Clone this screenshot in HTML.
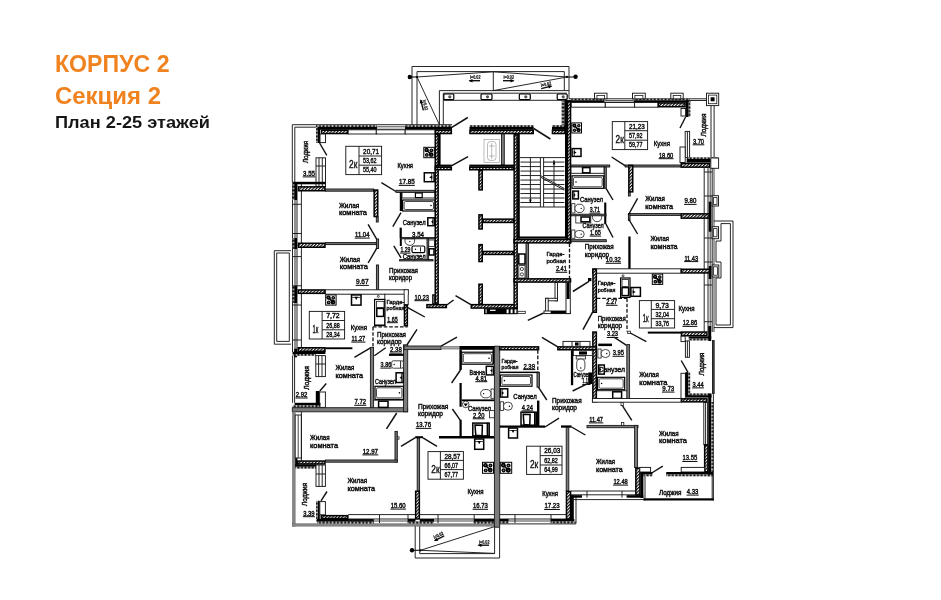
<!DOCTYPE html>
<html lang="ru"><head><meta charset="utf-8"><title>Корпус 2, Секция 2 — План 2-25 этажей</title>
<style>
html,body{margin:0;padding:0;background:#fff}
body{width:941px;height:600px;overflow:hidden;position:relative;font-family:"Liberation Sans",sans-serif}
svg{position:absolute;left:0;top:0;display:block;will-change:transform}
.ttl{font-family:"Liberation Sans",sans-serif;font-weight:700}
.h{fill:url(#ht);stroke:#000;stroke-width:1.5}
.b{fill:#000}
.g{fill:#7c7c7c;stroke:#1a1a1a;stroke-width:.9}
.g3{fill:#858585;stroke:#666;stroke-width:.4}
.g2{fill:#aaa;stroke:#555;stroke-width:.6}
.t{fill:#777;stroke:#111;stroke-width:.9}
.w{fill:#fff;stroke:#1a1a1a;stroke-width:.95}
.d{fill:url(#dt)}
.dv{fill:url(#dv)}
.l{stroke:#1a1a1a;stroke-width:.95;fill:none}
.l2{stroke:#222;stroke-width:.85;fill:none}
.lk{stroke:#111;stroke-width:1.1;fill:none}
.dr{stroke:#111;stroke-width:1.5;fill:none;stroke-linecap:butt}
.dk{stroke:#111;stroke-width:1.4;fill:none}
.da{stroke:#111;stroke-width:1.3;fill:none;stroke-dasharray:3.6 1.8}
.ul{stroke:#111;stroke-width:1}
.tx{font:400 7.1px "Liberation Sans",sans-serif;fill:#111;stroke:#111;stroke-width:.45}
.ts{font:400 5.8px "Liberation Sans",sans-serif;fill:#111;stroke:#111;stroke-width:.4}
.nm{font:400 7.3px "Liberation Sans",sans-serif;fill:#111;stroke:#111;stroke-width:.45}
.bx{font:400 6.9px "Liberation Sans",sans-serif;fill:#111;stroke:#111;stroke-width:.4}
.kk{font:400 10.6px "Liberation Sans",sans-serif;fill:#111;stroke:#111;stroke-width:.4}
.ww{fill:#fff;stroke:none}
.sl{font:700 4.8px "Liberation Sans",sans-serif;fill:#111;stroke:#111;stroke-width:.2}
.st{fill:#fff;stroke:#000;stroke-width:1}
.sc{fill:#bbb;stroke:#000;stroke-width:.6}
.fx{fill:#fff;stroke:#000;stroke-width:1.2}
.fi{fill:#fff;stroke:#1a1a1a;stroke-width:.8}
.fk{fill:#fff;stroke:#000;stroke-width:1.5}
</style></head><body>
<svg width="941" height="600" viewBox="0 0 941 600">
<defs>
<pattern id="ht" width="2.3" height="2.3" patternUnits="userSpaceOnUse" patternTransform="rotate(-45)"><rect width="2.3" height="2.3" fill="#fff"/><rect width="2.3" height="1.2" fill="#0a0a0a"/></pattern>
<pattern id="dt" width="3.6" height="3.6" patternUnits="userSpaceOnUse"><rect width="3.6" height="3.6" fill="#111"/><rect x=".6" y="0" width="1.5" height="3.6" fill="#c8c8c8"/></pattern>
<pattern id="dv" width="3.6" height="3.6" patternUnits="userSpaceOnUse"><rect width="3.6" height="3.6" fill="#111"/><rect x="0" y=".6" width="3.6" height="1.5" fill="#c8c8c8"/></pattern>
</defs>
<rect width="941" height="600" fill="#fff"/>
<text class="ttl" x="55" y="71.6" font-size="23.4" fill="#f0831f" textLength="114.5" lengthAdjust="spacingAndGlyphs">КОРПУС 2</text>
<text class="ttl" x="55" y="103.8" font-size="23.4" fill="#f0831f" textLength="106" lengthAdjust="spacingAndGlyphs">Секция 2</text>
<text class="ttl" x="55" y="127.6" font-size="17.3" fill="#161616" textLength="155" lengthAdjust="spacingAndGlyphs">План 2-25 этажей</text>
<g id="plan">
<g id="top-balcony">
<line class="l" x1="412" y1="66.5" x2="569" y2="66.5"/>
<line class="l" x1="417" y1="71.6" x2="564.3" y2="71.6"/>
<line class="l" x1="412" y1="66.5" x2="412" y2="124.7"/>
<line class="l" x1="417" y1="71.6" x2="417" y2="124.7"/>
<line class="l" x1="569" y1="66.5" x2="569" y2="98.8"/>
<line class="l" x1="564.3" y1="71.6" x2="564.3" y2="90.6"/>
<line class="l" x1="439.4" y1="90.6" x2="569" y2="90.6"/>
<line class="l" x1="439.4" y1="90.6" x2="439.4" y2="124.7"/>
<line class="l" x1="443.3" y1="93.2" x2="443.3" y2="124.7"/>
<line class="l" x1="443.3" y1="93.2" x2="567" y2="93.2"/>
<line class="l" x1="443.3" y1="100.3" x2="562" y2="100.3"/>
<line class="l" x1="493.3" y1="71.6" x2="493.3" y2="90.6"/>
<line class="l" x1="417" y1="77" x2="493.3" y2="71.8"/>
<line class="l" x1="417" y1="77" x2="439.4" y2="124.7"/>
<line class="l" x1="567" y1="77" x2="493.3" y2="71.8"/>
<line class="l" x1="567" y1="77" x2="493.3" y2="90.6"/>
<line class="lk" x1="409.8" y1="77" x2="417" y2="77"/>
<line class="lk" x1="567" y1="77" x2="575.9" y2="77"/>
<circle cx="409.8" cy="77" r="2.2"/><circle cx="417" cy="77" r="1.1"/><circle cx="575.6" cy="76.8" r="2.2"/><circle cx="567" cy="76.8" r="1.1"/>
<rect class="fx" x="443.8" y="94" width="10" height="5.6" rx="1"/>
<circle cx="449.8" cy="96.8" r="1.6" fill="#555"/>
<rect class="fx" x="481" y="94" width="11" height="5.6" rx="1"/>
<circle cx="487.5" cy="96.8" r="1.6" fill="#555"/>
<rect class="fx" x="519.3" y="94" width="11" height="5.6" rx="1"/>
<circle cx="525.8" cy="96.8" r="1.6" fill="#555"/>
<rect class="fx" x="557.2" y="94" width="10" height="5.6" rx="1"/>
<circle cx="563.2" cy="96.8" r="1.6" fill="#555"/>
<g transform="translate(469.5 80) rotate(0)">
<text class="sl" x="0.5" y="-0.8" textLength="10.5" lengthAdjust="spacingAndGlyphs">i=0.02</text>
<path d="M0 0.7H10.5" stroke="#111" stroke-width="1.4" fill="none"/>
<path d="M-1 0.7l4 -1.8v3.6z"/>
</g>
<g transform="translate(503 80) rotate(0)">
<text class="sl" x="0.5" y="-0.8" textLength="10.5" lengthAdjust="spacingAndGlyphs">i=0.02</text>
<path d="M0 0.7H10.5" stroke="#111" stroke-width="1.4" fill="none"/>
<path d="M11.5 0.7l-4 -1.8v3.6z"/>
</g>
<g transform="translate(541 88) rotate(-14)">
<text class="sl" x="0.5" y="-0.8" textLength="10.5" lengthAdjust="spacingAndGlyphs">i=0.02</text>
<path d="M0 0.7H10.5" stroke="#111" stroke-width="1.4" fill="none"/>
<path d="M11.5 0.7l-4 -1.8v3.6z"/>
</g>
<g transform="translate(421.5 100) rotate(76)">
<text class="sl" x="0.5" y="-0.8" textLength="10.5" lengthAdjust="spacingAndGlyphs">i=0.02</text>
<path d="M0 0.7H10.5" stroke="#111" stroke-width="1.4" fill="none"/>
<path d="M-1 0.7l4 -1.8v3.6z"/>
</g>
</g>
<g id="apt1">
<line class="l" x1="292.3" y1="124.7" x2="452" y2="124.7"/>
<line class="l" x1="292.3" y1="124.7" x2="292.3" y2="182"/>
<line class="l" x1="294.8" y1="127.2" x2="294.8" y2="182"/>
<line class="l" x1="294.8" y1="127.2" x2="316" y2="127.2"/>
<rect class="d" x="316" y="125.2" width="61" height="2"/>
<rect class="d" x="405" y="125.2" width="47" height="2"/>
<rect class="b" x="316" y="127" width="61" height="2.8"/>
<rect class="b" x="405" y="127" width="47" height="2.8"/>
<line class="l2" x1="377" y1="126.8" x2="405" y2="126.8"/>
<line class="l2" x1="377" y1="129.2" x2="405" y2="129.2"/>
<rect class="h" x="321.45" y="130.25" width="26.3" height="3.3"/>
<rect class="w" x="348.2" y="129.8" width="28.1" height="4.2"/>
<rect class="w" x="376.3" y="129.8" width="28.9" height="4.2"/>
<rect class="w" x="405.2" y="129.8" width="29.8" height="4.2"/>
<rect class="b" x="317.4" y="127" width="2.6" height="16"/>
<rect class="dv" x="316" y="127" width="1.6" height="16"/>
<rect class="w" x="320" y="134" width="5.5" height="8.6"/>
<line class="dk" x1="319.6" y1="143" x2="326.8" y2="155.3"/>
<rect class="w" x="316" y="157.8" width="9.5" height="28.6"/>
<line class="l" x1="319" y1="157.8" x2="319" y2="186.4"/>
<line class="l" x1="322.3" y1="157.8" x2="322.3" y2="186.4"/>
<line class="l" x1="316" y1="166" x2="325.5" y2="166"/>
<rect class="b" x="292.3" y="181.8" width="33.2" height="2.5"/>
<text class="tx" x="307.6" y="163" textLength="22" lengthAdjust="spacingAndGlyphs" transform="rotate(-90 307.6 163)">Лоджия</text>
<text class="nm" x="303" y="175.8" textLength="12" lengthAdjust="spacingAndGlyphs">3.55</text>
<line class="ul" x1="302.7" y1="176.9" x2="315.3" y2="176.9"/>
<rect class="w" x="345.8" y="146.3" width="35.8" height="28.3"/>
<line class="l" x1="359" y1="146.3" x2="359" y2="174.6"/>
<line class="l" x1="359" y1="156" x2="381.6" y2="156"/>
<line class="l" x1="359" y1="165.2" x2="381.6" y2="165.2"/>
<text class="bx" x="363.1" y="153.65" textLength="15.9" lengthAdjust="spacingAndGlyphs">20,71</text>
<text class="bx" x="363.1" y="163.1" textLength="13.5" lengthAdjust="spacingAndGlyphs">53,62</text>
<text class="bx" x="363.1" y="172.4" textLength="13.5" lengthAdjust="spacingAndGlyphs">55,40</text>
<text class="kk" x="349.1" y="168.05" textLength="8.2" lengthAdjust="spacingAndGlyphs">2к</text>
<text class="tx" x="397.5" y="167.7" textLength="15.5" lengthAdjust="spacingAndGlyphs">Кухня</text>
<text class="nm" x="399" y="184.3" textLength="15.6" lengthAdjust="spacingAndGlyphs">17.85</text>
<line class="ul" x1="398.7" y1="185.4" x2="414.9" y2="185.4"/>
<rect class="st" x="423.8" y="147.3" width="10.5" height="10.4"/>
<circle cx="426.61" cy="150.08" r="2.22"/><circle cx="426.61" cy="150.08" r="0.78" fill="#777"/>
<circle cx="431.38" cy="150.3" r="1.89"/><circle cx="431.38" cy="150.3" r="0.78" fill="#777"/>
<circle cx="426.83" cy="154.92" r="1.89"/><circle cx="426.83" cy="154.92" r="0.78" fill="#777"/>
<circle cx="431.16" cy="154.7" r="2.33"/><circle cx="431.16" cy="154.7" r="0.78" fill="#777"/>
<path d="M426.83 150.3L431.27 154.7" stroke="#000" stroke-width="1.6"/>
<rect class="fk" x="424.3" y="172.8" width="9.8" height="8.9"/>
<line class="l2" x1="431.7" y1="172.5" x2="431.7" y2="182"/>
<path d="M432.32 175.55v3.4l-3.12 -1.7z"/>
<line class="l" x1="292.5" y1="184" x2="292.5" y2="352"/>
<line class="l" x1="295" y1="184" x2="295" y2="352"/>
<line class="l" x1="297" y1="184" x2="297" y2="352"/>
<line class="l" x1="301.4" y1="184" x2="301.4" y2="352"/>
<line class="l" x1="292.6" y1="355.6" x2="292.6" y2="402.8"/>
<line class="l" x1="294.6" y1="355.6" x2="294.6" y2="402.8"/>
<rect class="b" x="294.2" y="184" width="2.8" height="16"/>
<rect class="b" x="294.2" y="238" width="2.8" height="11"/>
<rect class="dv" x="292.5" y="184" width="1.7" height="16"/>
<rect class="dv" x="292.5" y="238" width="1.7" height="11"/>
<line class="l" x1="292.5" y1="204.3" x2="301.4" y2="204.3"/>
<line class="l" x1="292.5" y1="233.5" x2="301.4" y2="233.5"/>
<rect class="h" x="298.45" y="186.85" width="26.5" height="3.9"/>
<rect class="t" x="325.4" y="189" width="48.3" height="2.2"/>
<rect class="h" x="374.15" y="190.05" width="3.6" height="26.5"/>
<rect class="t" x="376.3" y="217" width="1.9" height="5"/>
<text class="tx" x="338.9" y="207.9" textLength="20.4" lengthAdjust="spacingAndGlyphs">Жилая</text>
<text class="tx" x="338.9" y="215.3" textLength="28.1" lengthAdjust="spacingAndGlyphs">комната</text>
<text class="nm" x="355" y="237" textLength="14.5" lengthAdjust="spacingAndGlyphs">11.04</text>
<line class="ul" x1="354.7" y1="238.1" x2="369.8" y2="238.1"/>
<line class="dk" x1="368.1" y1="224.4" x2="376.8" y2="239.4"/>
<rect class="t" x="376.4" y="239" width="2.2" height="9.5"/>
<line class="dk" x1="376.8" y1="248.2" x2="368.1" y2="263"/>
<rect class="h" x="298.45" y="243.25" width="26.5" height="4"/>
<rect class="t" x="325.4" y="242.6" width="50.9" height="2"/>
<text class="tx" x="339.7" y="261.7" textLength="20.3" lengthAdjust="spacingAndGlyphs">Жилая</text>
<text class="tx" x="339.7" y="269.1" textLength="28.1" lengthAdjust="spacingAndGlyphs">комната</text>
<text class="nm" x="355.9" y="284.3" textLength="12.7" lengthAdjust="spacingAndGlyphs">9.67</text>
<line class="ul" x1="355.6" y1="285.4" x2="368.9" y2="285.4"/>
<rect class="t" x="376.4" y="265" width="2.2" height="25"/>
<line class="dk" x1="381.4" y1="182.6" x2="395.9" y2="191.5"/>
<rect class="t" x="396" y="190.3" width="39" height="2.1"/>
<rect class="b" x="399.8" y="192.3" width="2.2" height="18.7"/>
<rect class="w" x="402" y="192.4" width="33" height="5.6"/>
<rect class="fx" x="415.4" y="193" width="6.8" height="4.6"/>
<rect class="fx" x="402.6" y="200" width="32.4" height="11"/>
<rect class="fi" x="404.1" y="201.5" width="29.4" height="8" rx="1.5"/>
<circle cx="431" cy="205.5" r="0.8"/>
<line class="dk" x1="401" y1="212.7" x2="392.8" y2="226.7"/>
<text class="tx" x="402.7" y="224.9" textLength="22.9" lengthAdjust="spacingAndGlyphs">Санузел</text>
<rect class="fk" x="427.8" y="217.8" width="6.5" height="7.9"/>
<line class="l2" x1="432.75" y1="217.5" x2="432.75" y2="226"/>
<path d="M433.18 220.05v3.4l-2.13 -1.7z"/>
<rect class="b" x="399.6" y="227.7" width="2.2" height="10.5"/>
<text class="nm" x="412" y="237.3" textLength="12" lengthAdjust="spacingAndGlyphs">3.54</text>
<line class="ul" x1="411.7" y1="238.4" x2="424.3" y2="238.4"/>
<rect class="t" x="401.8" y="237.6" width="33.2" height="1.2"/>
<path class="fi" d="M405 239h9.6v2.2a4.8 4.2 0 0 1 -9.6 0z"/><circle cx="409.8" cy="241.6" r="0.7"/>
<text class="nm" x="400.4" y="252" textLength="9.9" lengthAdjust="spacingAndGlyphs">1.29</text>
<line class="ul" x1="400.1" y1="253.1" x2="410.6" y2="253.1"/>
<rect class="fx" x="412" y="246" width="12.8" height="6.6" rx="1.4"/><circle cx="415.5" cy="249.3" r="0.7"/>
<line class="l" x1="420.5" y1="247.2" x2="420.5" y2="251.6"/>
<rect class="t" x="427" y="238.7" width="1.6" height="21.9"/>
<rect class="fi" x="428.8" y="240" width="5.6" height="6.5"/>
<rect class="fk" x="429.2" y="248.8" width="4.8" height="6.2"/>
<text class="tx" x="402.7" y="259.3" textLength="22.9" lengthAdjust="spacingAndGlyphs">Санузел</text>
<rect class="t" x="399.6" y="259.6" width="33.4" height="1.3"/>
<line class="dk" x1="393.8" y1="245.9" x2="401" y2="257.8"/>
<rect class="b" x="399.8" y="238.2" width="2" height="7.8"/>
<text class="tx" x="389" y="272.8" textLength="29" lengthAdjust="spacingAndGlyphs">Прихожая</text>
<text class="tx" x="389" y="280.2" textLength="23" lengthAdjust="spacingAndGlyphs">коридор</text>
<text class="nm" x="414.6" y="299.6" textLength="14.4" lengthAdjust="spacingAndGlyphs">10.23</text>
<line class="ul" x1="414.3" y1="300.7" x2="429.3" y2="300.7"/>
</g>
<g id="core">
<rect class="h" x="435.45" y="130.25" width="15.9" height="3.3"/>
<rect class="d" x="469.5" y="125.2" width="64.2" height="2"/>
<rect class="b" x="469.5" y="127" width="64.2" height="2.8"/>
<rect class="h" x="469.95" y="130.25" width="63.3" height="3.3"/>
<rect class="d" x="552" y="125.2" width="14" height="2"/>
<rect class="b" x="552" y="127" width="14" height="2.8"/>
<rect class="h" x="552.45" y="130.25" width="13.1" height="3.3"/>
<line class="dr" x1="451.8" y1="127.4" x2="467.8" y2="117.5"/>
<line class="dr" x1="533.7" y1="128.5" x2="550.4" y2="139"/>
<rect class="h" x="435.25" y="134.45" width="2.9" height="169.5"/>
<rect class="h" x="426.95" y="304.65" width="19.4" height="2.9"/>
<rect class="t" x="432.6" y="294.7" width="1.8" height="9.1"/>
<line class="dr" x1="446.8" y1="305" x2="453.6" y2="300"/>
<rect class="b" x="438.5" y="133.8" width="2.1" height="31.4"/>
<rect class="b" x="434.8" y="164.6" width="17" height="2.2"/>
<rect class="h" x="435.25" y="167.25" width="16.1" height="2.5"/>
<line class="dr" x1="451.8" y1="165.6" x2="468" y2="156.7"/>
<rect class="b" x="469.3" y="164.6" width="44.7" height="2.2"/>
<rect class="h" x="469.75" y="167.25" width="43.8" height="2.5"/>
<rect class="h" x="478.95" y="170.45" width="3.3" height="19.4"/>
<rect class="h" x="478.95" y="214.85" width="3.3" height="14.1"/>
<rect class="h" x="483.15" y="219.15" width="30.4" height="3.3"/>
<rect class="h" x="478.95" y="244.65" width="3.3" height="16.9"/>
<rect class="h" x="483.15" y="251.45" width="30.4" height="3"/>
<rect class="h" x="478.95" y="284.25" width="3.3" height="19.9"/>
<rect class="h" x="471.25" y="304.65" width="45.9" height="3.4"/>
<line class="dr" x1="455.5" y1="295.7" x2="470.8" y2="304.6"/>
<rect class="h" x="514.15" y="134.45" width="3" height="173.6"/>
<rect class="b" x="517.6" y="134" width="2.2" height="104.6"/>
<rect class="b" x="565" y="134" width="2" height="104.6"/>
<rect class="h" x="567.45" y="100.95" width="3.1" height="141.9"/>
<rect class="b" x="517.6" y="236.5" width="49.4" height="2.1"/>
<rect class="h" x="514.15" y="239.45" width="56.4" height="3.4"/>
<rect class="g" x="501.5" y="134" width="2.8" height="30.6"/>
<g stroke="#777" stroke-width=".5" fill="none"><rect x="484" y="139.5" width="15.5" height="23"/><rect x="487.5" y="141.5" width="8.5" height="19" rx="3"/><path d="M489 146h5.5M489 156h5.5M491.7 143v16"/></g>
<line class="l" x1="520.4" y1="162.09" x2="540.4" y2="162.09"/>
<line class="l" x1="543.6" y1="162.09" x2="564.4" y2="162.09"/>
<line class="l" x1="520.4" y1="166.58" x2="540.4" y2="166.58"/>
<line class="l" x1="543.6" y1="166.58" x2="564.4" y2="166.58"/>
<line class="l" x1="520.4" y1="171.07" x2="540.4" y2="171.07"/>
<line class="l" x1="543.6" y1="171.07" x2="564.4" y2="171.07"/>
<line class="l" x1="520.4" y1="175.56" x2="540.4" y2="175.56"/>
<line class="l" x1="543.6" y1="175.56" x2="564.4" y2="175.56"/>
<line class="l" x1="520.4" y1="180.05" x2="540.4" y2="180.05"/>
<line class="l" x1="543.6" y1="180.05" x2="564.4" y2="180.05"/>
<line class="l" x1="520.4" y1="184.54" x2="540.4" y2="184.54"/>
<line class="l" x1="543.6" y1="184.54" x2="564.4" y2="184.54"/>
<line class="l" x1="520.4" y1="189.03" x2="540.4" y2="189.03"/>
<line class="l" x1="543.6" y1="189.03" x2="564.4" y2="189.03"/>
<line class="l" x1="520.4" y1="193.52" x2="540.4" y2="193.52"/>
<line class="l" x1="543.6" y1="193.52" x2="564.4" y2="193.52"/>
<line class="l" x1="520.4" y1="198.01" x2="540.4" y2="198.01"/>
<line class="l" x1="543.6" y1="198.01" x2="564.4" y2="198.01"/>
<line class="l" x1="520.4" y1="202.5" x2="540.4" y2="202.5"/>
<line class="l" x1="543.6" y1="202.5" x2="564.4" y2="202.5"/>
<line class="l" x1="520" y1="157.6" x2="565" y2="157.6"/>
<line class="l" x1="520" y1="207" x2="565" y2="207"/>
<line class="l" x1="540.4" y1="157.6" x2="540.4" y2="207"/>
<line class="l" x1="543.6" y1="157.6" x2="543.6" y2="207"/>
<line class="l" x1="530.4" y1="157.6" x2="530.4" y2="203"/>
<path d="M530.4 203.5l-1.3 -4h2.6z"/>
<line class="l" x1="554" y1="160" x2="554" y2="207"/>
<path d="M554 160.5l-1.3 4h2.6z"/>
<line class="l" x1="541" y1="175.8" x2="564.4" y2="188.6"/>
<line class="l" x1="541" y1="177.4" x2="564.4" y2="190.2"/>
<rect class="t" x="526" y="243.3" width="2.6" height="35.1"/>
<rect class="fk" x="518.8" y="254" width="6.2" height="10"/>
<rect class="fi" x="518.8" y="265.6" width="6.2" height="12.4"/>
<circle class="fi" cx="521.9" cy="269" r="1.6"/><circle class="fi" cx="521.9" cy="274.4" r="1.6"/>
<rect class="h" x="514.15" y="278.85" width="56.4" height="3.2"/>
<line class="da" x1="569.5" y1="243.3" x2="569.5" y2="278.4"/>
<text class="ts" x="546.5" y="255.8" textLength="17.9" lengthAdjust="spacingAndGlyphs">Гарде-</text>
<text class="ts" x="546.5" y="262.5" textLength="19.5" lengthAdjust="spacingAndGlyphs">робная</text>
<text class="nm" x="555.9" y="271.2" textLength="11" lengthAdjust="spacingAndGlyphs">2.41</text>
<line class="ul" x1="555.6" y1="272.3" x2="567.2" y2="272.3"/>
<rect class="w" x="555" y="282.5" width="2.5" height="18.3"/>
<rect class="w" x="545.6" y="298.3" width="11.9" height="2.5"/>
<rect class="w" x="545.6" y="298.3" width="2.6" height="15.1"/>
<rect class="w" x="544" y="311" width="26.3" height="2.6"/>
<rect class="b" x="550.7" y="311" width="15.3" height="2.6"/>
<rect class="w" x="566" y="282.5" width="4.3" height="31.1"/>
<rect class="b" x="566.6" y="283" width="3" height="16"/>
<line class="dr" x1="543.6" y1="313" x2="527.8" y2="320.4"/>
<rect class="b" x="484" y="308.4" width="33.8" height="5.8"/>
<rect class="ww" x="485.6" y="309.2" width="1" height="4"/>
<rect class="ww" x="490" y="309.7" width="5.6" height="1.2"/>
<rect class="ww" x="506.6" y="309.4" width="2" height="3.8"/>
<rect class="ww" x="510.6" y="309.4" width="2" height="3.8"/>
<rect class="ww" x="514.6" y="309.4" width="1.8" height="3.8"/>
<rect class="fi" x="517.8" y="311.3" width="7.5" height="2.3"/>
</g>
<g id="apt2">
<rect class="dv" x="561.6" y="100.3" width="2.7" height="24.9"/>
<rect class="b" x="564.3" y="98.8" width="2.7" height="35.2"/>
<line class="l" x1="569" y1="98.8" x2="706.5" y2="98.8"/>
<rect class="d" x="571" y="98.8" width="33.3" height="1.7"/>
<rect class="d" x="633.7" y="98.8" width="56.3" height="1.7"/>
<rect class="b" x="567" y="100.3" width="37.3" height="2.2"/>
<rect class="b" x="633.7" y="100.3" width="56.6" height="2.2"/>
<line class="l2" x1="604.3" y1="100.6" x2="633.7" y2="100.6"/>
<line class="l2" x1="604.3" y1="102.2" x2="633.7" y2="102.2"/>
<rect class="w" x="571.3" y="102.5" width="34" height="4.7"/>
<rect class="w" x="605.3" y="102.5" width="29.3" height="4.7"/>
<rect class="w" x="634.6" y="102.5" width="23.4" height="4.7"/>
<rect class="h" x="658.45" y="102.95" width="26.5" height="3.8"/>
<rect class="w" x="594.5" y="93.2" width="12.5" height="5.6"/>
<rect class="fi" x="596.9" y="95.4" width="7.7" height="3.4"/>
<rect class="w" x="632.5" y="93.2" width="12.8" height="5.6"/>
<rect class="fi" x="634.9" y="95.4" width="8" height="3.4"/>
<rect class="w" x="670.8" y="93.2" width="12.4" height="5.6"/>
<rect class="fi" x="673.2" y="95.4" width="7.6" height="3.4"/>
<rect class="b" x="685.6" y="100.3" width="3.1" height="16.7"/>
<rect class="dv" x="688.7" y="100.3" width="1.7" height="16.7"/>
<rect class="w" x="681" y="108.5" width="4.6" height="7.5"/>
<line class="dk" x1="685.6" y1="117" x2="680" y2="128"/>
<line class="l" x1="690" y1="100.5" x2="706.5" y2="100.5"/>
<rect class="w" x="706.5" y="93.2" width="12.2" height="12.4"/>
<rect class="fi" x="708.4" y="95.1" width="8.4" height="8.6"/>
<rect class="b" x="710.6" y="97.3" width="4" height="4"/>
<line class="l" x1="711" y1="105.6" x2="711" y2="157.5"/>
<line class="l" x1="714.1" y1="105.6" x2="714.1" y2="157.5"/>
<rect class="w" x="685.2" y="131.4" width="4.4" height="26.1"/>
<line class="l" x1="687.4" y1="131.4" x2="687.4" y2="157.5"/>
<rect class="w" x="680" y="147" width="5.2" height="15.5"/>
<text class="tx" x="706.4" y="136.5" textLength="22.9" lengthAdjust="spacingAndGlyphs" transform="rotate(-90 706.4 136.5)">Лоджия</text>
<text class="nm" x="692.9" y="143.7" textLength="11.1" lengthAdjust="spacingAndGlyphs">3.70</text>
<line class="ul" x1="692.6" y1="144.8" x2="704.3" y2="144.8"/>
<rect class="w" x="612.3" y="121.6" width="35.3" height="28"/>
<line class="l" x1="624.8" y1="121.6" x2="624.8" y2="149.6"/>
<line class="l" x1="624.8" y1="130.7" x2="647.6" y2="130.7"/>
<line class="l" x1="624.8" y1="140.2" x2="647.6" y2="140.2"/>
<text class="bx" x="628.9" y="128.65" textLength="15.9" lengthAdjust="spacingAndGlyphs">21,23</text>
<text class="bx" x="628.9" y="137.95" textLength="13.5" lengthAdjust="spacingAndGlyphs">57,92</text>
<text class="bx" x="628.9" y="147.4" textLength="13.5" lengthAdjust="spacingAndGlyphs">59,77</text>
<text class="kk" x="615.6" y="143.2" textLength="8.2" lengthAdjust="spacingAndGlyphs">2к</text>
<text class="tx" x="653.8" y="145.6" textLength="16.2" lengthAdjust="spacingAndGlyphs">Кухня</text>
<text class="nm" x="658.9" y="157.6" textLength="14.4" lengthAdjust="spacingAndGlyphs">18.60</text>
<line class="ul" x1="658.6" y1="158.7" x2="673.6" y2="158.7"/>
<rect class="st" x="571.8" y="122.9" width="9.7" height="10.1"/>
<circle cx="574.38" cy="125.6" r="2.06"/><circle cx="574.38" cy="125.6" r="0.72" fill="#777"/>
<circle cx="578.81" cy="125.81" r="1.75"/><circle cx="578.81" cy="125.81" r="0.72" fill="#777"/>
<circle cx="574.59" cy="130.3" r="1.75"/><circle cx="574.59" cy="130.3" r="0.72" fill="#777"/>
<circle cx="578.61" cy="130.09" r="2.16"/><circle cx="578.61" cy="130.09" r="0.72" fill="#777"/>
<path d="M574.59 125.81L578.71 130.09" stroke="#000" stroke-width="1.6"/>
<rect class="fk" x="572.1" y="148.6" width="8.9" height="7.8"/>
<line class="l2" x1="574.27" y1="148.3" x2="574.27" y2="156.7"/>
<path d="M573.7 150.8v3.4l2.85 -1.7z"/>
<rect class="d" x="686.7" y="157.3" width="31.6" height="1.9"/>
<rect class="b" x="686.7" y="159" width="24.1" height="3.6"/>
<rect class="h" x="681.25" y="163.45" width="28.3" height="3.7"/>
<rect class="w" x="710.8" y="158" width="7.8" height="10.3"/>
<rect class="t" x="625.2" y="165" width="55.6" height="2"/>
<line class="dk" x1="611.6" y1="157" x2="625.4" y2="165.8"/>
<rect class="h" x="628.85" y="165.45" width="3.9" height="26.4"/>
<rect class="t" x="628.4" y="192.3" width="1.8" height="3.7"/>
<rect class="t" x="571" y="165" width="38.7" height="2"/>
<rect class="w" x="571" y="167" width="33.2" height="6.3"/>
<rect class="fk" x="582.6" y="167.6" width="7.4" height="5.2"/>
<rect class="t" x="604.2" y="167" width="2.1" height="21.3"/>
<rect class="fx" x="572" y="175.8" width="31.7" height="12.5"/>
<rect class="fi" x="573.5" y="177.3" width="28.7" height="9.5" rx="1.5"/>
<circle cx="576" cy="182.05" r="0.8"/>
<line class="dk" x1="606" y1="188.3" x2="613" y2="200"/>
<rect class="fk" x="572.8" y="191.1" width="5.6" height="7.8"/>
<line class="l2" x1="574.11" y1="190.8" x2="574.11" y2="199.2"/>
<path d="M573.74 193.3v3.4l1.86 -1.7z"/>
<text class="tx" x="580" y="201.5" textLength="23" lengthAdjust="spacingAndGlyphs">Санузел</text>
<rect class="fi" x="571.7" y="203.7" width="3.2" height="9.3"/>
<rect class="fi" x="574.9" y="204.2" width="9.3" height="8.3" rx="4.15"/>
<circle cx="581.2" cy="208.35" r="0.7"/>
<text class="nm" x="589.7" y="212" textLength="10.3" lengthAdjust="spacingAndGlyphs">3.71</text>
<line class="ul" x1="589.4" y1="213.1" x2="600.3" y2="213.1"/>
<rect class="b" x="604.2" y="202.5" width="2.1" height="21.7"/>
<rect class="t" x="571" y="214.2" width="35" height="1.6"/>
<rect class="fi" x="575.8" y="215.8" width="15" height="7.2"/>
<rect class="fk" x="581" y="217" width="8.8" height="4.8"/>
<path class="fi" d="M592.5 215.8h9.2v1.5a4.6 4.4 0 0 1 -9.2 0z"/>
<text class="tx" x="582.5" y="227.6" textLength="21.2" lengthAdjust="spacingAndGlyphs">Санузел</text>
<rect class="fi" x="571.7" y="230" width="3.2" height="8.3"/>
<rect class="fi" x="574.9" y="230.5" width="9.3" height="7.3" rx="3.65"/>
<circle cx="581.2" cy="234.15" r="0.7"/>
<text class="nm" x="590" y="235" textLength="10.8" lengthAdjust="spacingAndGlyphs">1.65</text>
<line class="ul" x1="589.7" y1="236.1" x2="601.1" y2="236.1"/>
<line class="dk" x1="606" y1="224.2" x2="613" y2="237.5"/>
<rect class="t" x="571" y="239.7" width="35.3" height="2"/>
<text class="tx" x="584.7" y="249" textLength="29" lengthAdjust="spacingAndGlyphs">Прихожая</text>
<text class="tx" x="584.7" y="257" textLength="24.3" lengthAdjust="spacingAndGlyphs">коридор</text>
<text class="nm" x="605.8" y="262.2" textLength="15" lengthAdjust="spacingAndGlyphs">10.32</text>
<line class="ul" x1="605.5" y1="263.3" x2="621.1" y2="263.3"/>
<text class="tx" x="645.3" y="201.3" textLength="19.5" lengthAdjust="spacingAndGlyphs">Жилая</text>
<text class="tx" x="645.3" y="208.6" textLength="27.7" lengthAdjust="spacingAndGlyphs">комната</text>
<text class="nm" x="684.4" y="203.3" textLength="11.9" lengthAdjust="spacingAndGlyphs">9.80</text>
<line class="ul" x1="684.1" y1="204.4" x2="696.6" y2="204.4"/>
<rect class="h" x="681.25" y="213.85" width="28.3" height="4.3"/>
<rect class="t" x="628.4" y="213.6" width="52.4" height="1.8"/>
<rect class="t" x="628.4" y="213.6" width="1.6" height="6.8"/>
<line class="dk" x1="628.6" y1="214.5" x2="637.6" y2="198.3"/>
<line class="dk" x1="628.6" y1="219" x2="637.6" y2="234"/>
<rect class="b" x="628.3" y="236.5" width="2.3" height="32.5"/>
<text class="tx" x="650.4" y="241.3" textLength="18.6" lengthAdjust="spacingAndGlyphs">Жилая</text>
<text class="tx" x="650.4" y="249" textLength="27.2" lengthAdjust="spacingAndGlyphs">комната</text>
<text class="nm" x="684.4" y="260.5" textLength="13.6" lengthAdjust="spacingAndGlyphs">11.43</text>
<line class="ul" x1="684.1" y1="261.6" x2="698.3" y2="261.6"/>
<line class="l" x1="704.2" y1="168" x2="704.2" y2="332"/>
<line class="l" x1="708" y1="168" x2="708" y2="332"/>
<line class="l2" x1="710.2" y1="168" x2="710.2" y2="332"/>
<line class="l" x1="712.2" y1="168" x2="712.2" y2="332"/>
<line class="l2" x1="714" y1="168" x2="714" y2="332"/>
<rect class="b" x="708.7" y="201.7" width="2.7" height="30"/>
<rect class="b" x="708.7" y="266" width="2.7" height="13"/>
<line class="l" x1="704.2" y1="285" x2="712.2" y2="285"/>
<line class="l" x1="704.2" y1="321.7" x2="712.2" y2="321.7"/>
<line class="l" x1="704.2" y1="172" x2="712.2" y2="172"/>
<line class="l" x1="704.2" y1="196" x2="712.2" y2="196"/>
<line class="l" x1="704.2" y1="238" x2="712.2" y2="238"/>
<line class="l" x1="704.2" y1="262" x2="712.2" y2="262"/>
<rect class="w" x="712.2" y="195.7" width="6.3" height="10.3"/>
<rect class="fi" x="713.4" y="197.6" width="3.6" height="6.8"/>
<rect class="w" x="712.2" y="226.7" width="6.3" height="12"/>
<rect class="fi" x="713.4" y="228.6" width="3.6" height="8.2"/>
<path class="l" d="M713.8 221 L733 221 L733 327.6 L713.8 327.6"/>
<path class="l" d="M721 223.6 L730.4 223.6 L730.4 325 L716 325 L716 278 L721 278 L721 262 L716 262 L716 241 L721 241 Z"/>
<rect class="w" x="712.2" y="265" width="6.6" height="12"/>
<rect class="fi" x="713.4" y="266.8" width="4" height="8.4"/>
</g>
<g id="apt3">
<path class="l" d="M291 250.7 L274.3 250.7 L274.3 344.2 L291 344.2"/>
<path class="l" d="M289.3 253 L276.7 253 L276.7 341.4 L289.3 341.4 L289.3 253"/>
<rect class="b" x="294.2" y="286" width="2.8" height="17"/>
<rect class="dv" x="292.5" y="286" width="1.7" height="17"/>
<rect class="b" x="294.2" y="348.7" width="2.8" height="8.6"/>
<line class="l" x1="292.5" y1="256.6" x2="301.4" y2="256.6"/>
<line class="l" x1="292.5" y1="285.8" x2="301.4" y2="285.8"/>
<line class="l" x1="292.5" y1="305" x2="301.4" y2="305"/>
<line class="l" x1="292.5" y1="340" x2="301.4" y2="340"/>
<rect class="h" x="298.25" y="289.95" width="26.7" height="3.4"/>
<rect class="w" x="325.4" y="289.8" width="82.8" height="4.4"/>
<rect class="w" x="404.2" y="289.8" width="4" height="14.9"/>
<rect class="ww" x="404.8" y="290.4" width="2.8" height="4.4"/>
<rect class="h" x="404.45" y="305.15" width="2.9" height="20.6"/>
<rect class="st" x="325.7" y="294.9" width="10.4" height="10.2"/>
<circle cx="328.48" cy="297.62" r="2.2"/><circle cx="328.48" cy="297.62" r="0.77" fill="#777"/>
<circle cx="333.21" cy="297.84" r="1.87"/><circle cx="333.21" cy="297.84" r="0.77" fill="#777"/>
<circle cx="328.7" cy="302.38" r="1.87"/><circle cx="328.7" cy="302.38" r="0.77" fill="#777"/>
<circle cx="332.99" cy="302.16" r="2.31"/><circle cx="332.99" cy="302.16" r="0.77" fill="#777"/>
<path d="M328.7 297.84L333.1 302.16" stroke="#000" stroke-width="1.6"/>
<rect class="fk" x="351.5" y="294.9" width="9.5" height="10.2"/>
<line class="l2" x1="351.2" y1="297.41" x2="361.3" y2="297.41"/>
<path d="M354.55 296.76h3.4l-1.7 3.24z"/>
<circle class="fi" cx="378.3" cy="296.4" r="1"/>
<rect class="fx" x="374.6" y="299.4" width="10.2" height="26"/>
<rect class="fi" x="376.5" y="301.3" width="7.5" height="6.2"/>
<rect class="fk" x="376.8" y="308.4" width="6.8" height="8"/>
<rect class="b" x="374.4" y="324.6" width="11" height="1.6"/>
<line class="l" x1="384.8" y1="293.7" x2="384.8" y2="326"/>
<text class="ts" x="386.5" y="303.6" textLength="17.9" lengthAdjust="spacingAndGlyphs">Гарде-</text>
<text class="ts" x="386.5" y="310.4" textLength="17.9" lengthAdjust="spacingAndGlyphs">робная</text>
<text class="nm" x="387.3" y="321.6" textLength="10.3" lengthAdjust="spacingAndGlyphs">1.65</text>
<line class="ul" x1="387" y1="322.7" x2="397.9" y2="322.7"/>
<line class="da" x1="373" y1="326.8" x2="407.6" y2="326.8"/>
<line class="da" x1="373" y1="326.8" x2="373" y2="355.8"/>
<line class="dk" x1="407.8" y1="307.6" x2="424.8" y2="317"/>
<line class="dk" x1="417" y1="329.4" x2="406.9" y2="345"/>
<rect class="w" x="309.3" y="311.4" width="35.3" height="27.6"/>
<line class="l" x1="322.1" y1="311.4" x2="322.1" y2="339"/>
<line class="l" x1="322.1" y1="320.5" x2="344.6" y2="320.5"/>
<line class="l" x1="322.1" y1="329.8" x2="344.6" y2="329.8"/>
<text class="bx" x="326.2" y="318.45" textLength="13.5" lengthAdjust="spacingAndGlyphs">7,72</text>
<text class="bx" x="326.2" y="327.65" textLength="13.5" lengthAdjust="spacingAndGlyphs">26,88</text>
<text class="bx" x="326.2" y="336.9" textLength="13.5" lengthAdjust="spacingAndGlyphs">28,34</text>
<text class="kk" x="312.6" y="332.8" textLength="5.8" lengthAdjust="spacingAndGlyphs">1к</text>
<text class="tx" x="350.8" y="330.3" textLength="16.2" lengthAdjust="spacingAndGlyphs">Кухня</text>
<text class="nm" x="351.6" y="341" textLength="13.6" lengthAdjust="spacingAndGlyphs">11.27</text>
<line class="ul" x1="351.3" y1="342.1" x2="365.5" y2="342.1"/>
<text class="tx" x="377" y="336.6" textLength="29" lengthAdjust="spacingAndGlyphs">Прихожая</text>
<text class="tx" x="377" y="343.6" textLength="24.7" lengthAdjust="spacingAndGlyphs">коридор</text>
<text class="nm" x="390" y="352" textLength="11.8" lengthAdjust="spacingAndGlyphs">2.38</text>
<line class="ul" x1="389.7" y1="353.1" x2="402.1" y2="353.1"/>
<rect class="h" x="298.25" y="347.75" width="26.7" height="3.6"/>
<rect class="b" x="325.4" y="347.3" width="27" height="1.9"/>
<rect class="b" x="292.5" y="351.8" width="32.9" height="2.2"/>
<rect class="d" x="292.5" y="354" width="23.5" height="1.8"/>
<line class="dk" x1="370.5" y1="347.8" x2="354.4" y2="357.4"/>
<line class="dk" x1="385.7" y1="347.8" x2="374.4" y2="355.8"/>
<rect class="w" x="315.8" y="355.6" width="9.6" height="21"/>
<line class="l" x1="318.6" y1="355.6" x2="318.6" y2="376.6"/>
<line class="l" x1="322" y1="355.6" x2="322" y2="376.6"/>
<line class="l" x1="315.8" y1="364" x2="325.4" y2="364"/>
<rect class="b" x="315.8" y="391" width="3.8" height="16.7"/>
<rect class="w" x="319.6" y="392" width="5.8" height="15.4"/>
<line class="dk" x1="319.8" y1="391" x2="326.3" y2="383.5"/>
<text class="tx" x="309" y="389.8" textLength="23.8" lengthAdjust="spacingAndGlyphs" transform="rotate(-90 309 389.8)">Лоджия</text>
<text class="nm" x="295.8" y="396.9" textLength="11.6" lengthAdjust="spacingAndGlyphs">2.92</text>
<line class="ul" x1="295.5" y1="398" x2="307.7" y2="398"/>
<rect class="b" x="294.6" y="402.8" width="25.9" height="2.6"/>
<rect class="d" x="292.5" y="405.4" width="28" height="2.3"/>
<text class="tx" x="335.5" y="370" textLength="18.7" lengthAdjust="spacingAndGlyphs">Жилая</text>
<text class="tx" x="335.5" y="377.9" textLength="27.5" lengthAdjust="spacingAndGlyphs">комната</text>
<text class="nm" x="354.5" y="404.2" textLength="11.5" lengthAdjust="spacingAndGlyphs">7.72</text>
<line class="ul" x1="354.2" y1="405.3" x2="366.3" y2="405.3"/>
<rect class="g" x="370.4" y="347.4" width="3.2" height="60.3"/>
<rect class="g" x="292.3" y="407.7" width="115.3" height="4.1"/>
<rect class="g" x="403.5" y="344.8" width="4.2" height="67"/>
<rect class="b" x="389" y="353.8" width="14.5" height="2.1"/>
<rect class="fi" x="391.7" y="360.8" width="11.7" height="7.4" rx="1.6"/><circle cx="394.2" cy="364.5" r="0.7"/>
<line class="l" x1="400.6" y1="361" x2="400.6" y2="368"/>
<text class="nm" x="380.6" y="367" textLength="10.6" lengthAdjust="spacingAndGlyphs">3.86</text>
<line class="ul" x1="380.3" y1="368.1" x2="391.5" y2="368.1"/>
<rect class="fk" x="396.1" y="372.8" width="7" height="9.7"/>
<line class="l2" x1="401.42" y1="372.5" x2="401.42" y2="382.8"/>
<path d="M401.88 375.95v3.4l-2.28 -1.7z"/>
<text class="tx" x="375" y="383.5" textLength="20.8" lengthAdjust="spacingAndGlyphs">Санузел</text>
<rect class="fx" x="375" y="386.3" width="28.4" height="13.1"/>
<rect class="fi" x="376.5" y="387.8" width="25.4" height="10.1" rx="1.5"/>
<circle cx="399.4" cy="392.85" r="0.8"/>
<line class="l" x1="373.7" y1="400.2" x2="403.4" y2="400.2"/>
<rect class="fk" x="378.6" y="401.2" width="9.4" height="6.2"/>
</g>
<g id="apt4">
<rect class="h" x="681.25" y="269.25" width="28.3" height="3.7"/>
<rect class="w" x="592.6" y="268.8" width="88.2" height="4.4"/>
<rect class="h" x="592.95" y="269.25" width="3.4" height="43"/>
<rect class="h" x="592.85" y="332.05" width="3.5" height="69.7"/>
<rect class="st" x="652.3" y="274.1" width="10.4" height="10.3"/>
<circle cx="655.08" cy="276.85" r="2.2"/><circle cx="655.08" cy="276.85" r="0.77" fill="#777"/>
<circle cx="659.81" cy="277.07" r="1.87"/><circle cx="659.81" cy="277.07" r="0.77" fill="#777"/>
<circle cx="655.3" cy="281.65" r="1.87"/><circle cx="655.3" cy="281.65" r="0.77" fill="#777"/>
<circle cx="659.59" cy="281.43" r="2.31"/><circle cx="659.59" cy="281.43" r="0.77" fill="#777"/>
<path d="M655.3 277.07L659.7 281.43" stroke="#000" stroke-width="1.6"/>
<circle class="fi" cx="623" cy="275.8" r="1"/>
<rect class="fx" x="620.6" y="278" width="9.4" height="19.4"/>
<rect class="fi" x="622" y="279.5" width="6.6" height="7"/>
<rect class="fk" x="622" y="287.6" width="6.6" height="8"/>
<rect class="fk" x="630.9" y="287.5" width="9.5" height="8.8"/>
<line class="l2" x1="633.23" y1="287.2" x2="633.23" y2="296.6"/>
<path d="M632.62 290.2v3.4l3.03 -1.7z"/>
<text class="ts" x="597.7" y="284.9" textLength="17.8" lengthAdjust="spacingAndGlyphs">Гарде-</text>
<text class="ts" x="597.7" y="292.2" textLength="17.8" lengthAdjust="spacingAndGlyphs">робная</text>
<line class="da" x1="596.8" y1="298.3" x2="627" y2="298.3"/>
<line class="da" x1="627" y1="298.3" x2="627" y2="331.4"/>
<text class="nm" x="606.2" y="304.2" textLength="11" lengthAdjust="spacingAndGlyphs">2.27</text>
<line class="ul" x1="605.9" y1="305.3" x2="617.5" y2="305.3"/>
<text class="tx" x="597.7" y="320.5" textLength="28" lengthAdjust="spacingAndGlyphs">Прихожая</text>
<text class="tx" x="597.7" y="327.8" textLength="24.3" lengthAdjust="spacingAndGlyphs">коридор</text>
<text class="nm" x="607" y="336.4" textLength="11" lengthAdjust="spacingAndGlyphs">3.23</text>
<line class="ul" x1="606.7" y1="337.5" x2="618.3" y2="337.5"/>
<rect class="w" x="639.4" y="300.6" width="35.2" height="27.4"/>
<line class="l" x1="651.3" y1="300.6" x2="651.3" y2="328"/>
<line class="l" x1="651.3" y1="309.4" x2="674.6" y2="309.4"/>
<line class="l" x1="651.3" y1="318.7" x2="674.6" y2="318.7"/>
<text class="bx" x="655.4" y="307.5" textLength="13.5" lengthAdjust="spacingAndGlyphs">9,73</text>
<text class="bx" x="655.4" y="316.55" textLength="13.5" lengthAdjust="spacingAndGlyphs">32,04</text>
<text class="bx" x="655.4" y="325.85" textLength="13.5" lengthAdjust="spacingAndGlyphs">33,76</text>
<text class="kk" x="642.7" y="321.9" textLength="5.8" lengthAdjust="spacingAndGlyphs">1к</text>
<text class="tx" x="678.4" y="310.8" textLength="16.2" lengthAdjust="spacingAndGlyphs">Кухня</text>
<text class="nm" x="682.7" y="325.3" textLength="14.4" lengthAdjust="spacingAndGlyphs">12.86</text>
<line class="ul" x1="682.4" y1="326.4" x2="697.4" y2="326.4"/>
<line class="dr" x1="572.9" y1="291.5" x2="589" y2="281.3"/>
<rect class="b" x="588" y="278" width="3.4" height="3.2"/>
<line class="dr" x1="583" y1="329.7" x2="592.6" y2="312.2"/>
<rect class="h" x="681.45" y="332.05" width="25.5" height="3.7"/>
<rect class="b" x="647.8" y="331.6" width="33.2" height="2"/>
<rect class="b" x="708.2" y="326" width="3" height="15"/>
<rect class="b" x="688.7" y="336.4" width="22.5" height="2.3"/>
<rect class="d" x="688.7" y="338.7" width="19.5" height="1.8"/>
<rect class="w" x="681" y="336.2" width="4.2" height="5.4"/>
<rect class="w" x="685.4" y="340.9" width="4" height="16.4"/>
<line class="l" x1="687.4" y1="340.9" x2="687.4" y2="357.3"/>
<rect class="fi" x="627.7" y="331.2" width="2.7" height="2.4"/>
<line class="dk" x1="630.3" y1="333" x2="646.3" y2="341.6"/>
<line class="dk" x1="614" y1="337.2" x2="626.6" y2="345.3"/>
<rect class="g" x="626.8" y="344.6" width="2.8" height="53.8"/>
<rect class="b" x="598.2" y="343.6" width="13.8" height="2.5"/>
<rect class="fi" x="597.9" y="349" width="3.2" height="9"/>
<rect class="fi" x="601.1" y="349.5" width="8.7" height="8" rx="4"/>
<circle cx="606.8" cy="353.5" r="0.7"/>
<text class="nm" x="612.8" y="355.2" textLength="11.2" lengthAdjust="spacingAndGlyphs">3.95</text>
<line class="ul" x1="612.5" y1="356.3" x2="624.3" y2="356.3"/>
<rect class="fk" x="598.5" y="365" width="5.8" height="9.1"/>
<line class="l2" x1="599.86" y1="364.7" x2="599.86" y2="374.4"/>
<path d="M599.48 367.85v3.4l1.92 -1.7z"/>
<text class="tx" x="598.4" y="372.2" textLength="26.6" lengthAdjust="spacingAndGlyphs">Санузел</text>
<rect class="fx" x="597.6" y="377.3" width="27.1" height="12.4"/>
<rect class="fi" x="599.1" y="378.8" width="24.1" height="9.4" rx="1.5"/>
<circle cx="601.6" cy="383.5" r="0.8"/>
<line class="l" x1="596.8" y1="390.7" x2="627" y2="390.7"/>
<rect class="fk" x="612.7" y="391.8" width="8.9" height="6.6"/>
<text class="tx" x="639.3" y="377.3" textLength="19.6" lengthAdjust="spacingAndGlyphs">Жилая</text>
<text class="tx" x="639.3" y="384.7" textLength="28.1" lengthAdjust="spacingAndGlyphs">комната</text>
<text class="nm" x="662.3" y="391" textLength="11.9" lengthAdjust="spacingAndGlyphs">9.73</text>
<line class="ul" x1="662" y1="392.1" x2="674.5" y2="392.1"/>
<line class="dk" x1="681.2" y1="360.5" x2="688" y2="372.4"/>
<rect class="w" x="681" y="373.3" width="4.4" height="25.7"/>
<rect class="b" x="685.4" y="372.1" width="2.8" height="23.9"/>
<rect class="dv" x="688.2" y="372.1" width="2" height="23.9"/>
<text class="tx" x="703.6" y="375.6" textLength="23" lengthAdjust="spacingAndGlyphs" transform="rotate(-90 703.6 375.6)">Лоджия</text>
<text class="nm" x="692.4" y="386.8" textLength="11.2" lengthAdjust="spacingAndGlyphs">3.44</text>
<line class="ul" x1="692.1" y1="387.9" x2="703.9" y2="387.9"/>
<rect class="d" x="688.7" y="393.4" width="22.8" height="1.9"/>
<rect class="b" x="686" y="395.2" width="25.5" height="2.4"/>
<rect class="h" x="681.45" y="398.85" width="25.5" height="3"/>
<rect class="w" x="592.4" y="398.5" width="88.6" height="3.7"/>
<line class="l" x1="712.5" y1="340" x2="712.5" y2="394"/>
<line class="l2" x1="714.3" y1="340" x2="714.3" y2="394"/>
<rect class="b" x="708.2" y="393.6" width="3.1" height="82.6"/>
</g>
<g id="apt5">
<rect class="g3" x="292.3" y="411.8" width="2.9" height="114.4"/>
<rect class="w" x="295.2" y="415" width="6.2" height="43"/>
<line class="l2" x1="298.2" y1="415" x2="298.2" y2="458"/>
<line class="l" x1="301.4" y1="411.8" x2="301.4" y2="461"/>
<line class="dr" x1="396.7" y1="413" x2="386.5" y2="428.9"/>
<rect class="t" x="395" y="431.4" width="2.3" height="30.6"/>
<rect class="fi" x="397.3" y="436.8" width="1.7" height="2.4"/>
<text class="tx" x="310" y="440.2" textLength="19.5" lengthAdjust="spacingAndGlyphs">Жилая</text>
<text class="tx" x="310" y="447.7" textLength="28" lengthAdjust="spacingAndGlyphs">комната</text>
<text class="nm" x="362.7" y="453.8" textLength="15.3" lengthAdjust="spacingAndGlyphs">12.97</text>
<line class="ul" x1="362.4" y1="454.9" x2="378.3" y2="454.9"/>
<rect class="h" x="297.65" y="461.05" width="27.3" height="2.9"/>
<rect class="t" x="325.4" y="460" width="71.9" height="2.2"/>
<rect class="b" x="295.2" y="458" width="2.2" height="8.6"/>
<rect class="b" x="295.2" y="464.4" width="21.6" height="2.4"/>
<rect class="d" x="295.2" y="466.8" width="21.6" height="1.8"/>
<rect class="w" x="316" y="465" width="9.4" height="21.4"/>
<line class="l" x1="319" y1="465" x2="319" y2="486.4"/>
<line class="l" x1="322.2" y1="465" x2="322.2" y2="486.4"/>
<line class="l" x1="316" y1="474" x2="325.4" y2="474"/>
<rect class="b" x="317.6" y="500.8" width="2.2" height="20.6"/>
<rect class="dv" x="316" y="500.8" width="1.6" height="20.6"/>
<rect class="w" x="319.8" y="501.6" width="5.6" height="13.2"/>
<line class="dk" x1="321" y1="500.8" x2="327" y2="491.5"/>
<text class="tx" x="306.6" y="506" textLength="23" lengthAdjust="spacingAndGlyphs" transform="rotate(-90 306.6 506)">Лоджия</text>
<text class="nm" x="303.2" y="515.6" textLength="11.4" lengthAdjust="spacingAndGlyphs">3.39</text>
<line class="ul" x1="302.9" y1="516.7" x2="314.9" y2="516.7"/>
<text class="tx" x="347.4" y="483" textLength="19.6" lengthAdjust="spacingAndGlyphs">Жилая</text>
<text class="tx" x="347.4" y="490.9" textLength="27.6" lengthAdjust="spacingAndGlyphs">комната</text>
<text class="nm" x="390.7" y="508" textLength="15" lengthAdjust="spacingAndGlyphs">15.60</text>
<line class="ul" x1="390.4" y1="509.1" x2="406" y2="509.1"/>
<rect class="g3" x="292.3" y="523.6" width="207.4" height="2.6"/>
<rect class="d" x="317" y="521.3" width="56.8" height="2.3"/>
<rect class="d" x="408" y="521.3" width="26" height="2.3"/>
<rect class="d" x="474.2" y="521.3" width="20.2" height="2.3"/>
<rect class="h" x="321.25" y="515.65" width="26.6" height="2.9"/>
<rect class="b" x="317" y="519" width="56.8" height="2.5"/>
<line class="l" x1="348.2" y1="514.6" x2="415.4" y2="514.6"/>
<line class="l" x1="348.2" y1="519" x2="415.4" y2="519"/>
<line class="l2" x1="348.2" y1="521" x2="415.4" y2="521"/>
<line class="l" x1="379.5" y1="514.6" x2="379.5" y2="523"/>
<line class="l" x1="408" y1="514.6" x2="408" y2="523"/>
<rect class="b" x="408" y="519" width="7.4" height="2.5"/>
<rect class="t" x="417.2" y="438" width="2.4" height="53.3"/>
<rect class="h" x="415.65" y="491.25" width="3.7" height="27.7"/>
<line class="l" x1="419.8" y1="514.6" x2="494.4" y2="514.6"/>
<line class="l" x1="419.8" y1="519" x2="494.4" y2="519"/>
<line class="l2" x1="419.8" y1="521" x2="494.4" y2="521"/>
<line class="l" x1="438" y1="514.6" x2="438" y2="523"/>
<line class="l" x1="474.2" y1="514.6" x2="474.2" y2="523"/>
<rect class="b" x="419.8" y="519" width="14.2" height="2.5"/>
<rect class="b" x="474.2" y="519" width="20.4" height="2.5"/>
<rect class="g" x="404" y="346" width="37" height="3.6"/>
<rect class="g2" x="441" y="346.6" width="18.6" height="2.4"/>
<line class="dk" x1="441" y1="346.2" x2="457" y2="337.2"/>
<rect class="b" x="459.6" y="346" width="36.4" height="3.8"/>
<rect class="b" x="459.4" y="349.6" width="2.4" height="20.4"/>
<rect class="b" x="492.6" y="349.6" width="2" height="14.8"/>
<rect class="fx" x="461.8" y="352.2" width="31.2" height="12"/>
<rect class="fi" x="463.3" y="353.7" width="28.2" height="9" rx="1.5"/>
<circle cx="489" cy="358.2" r="0.8"/>
<line class="dk" x1="460.5" y1="370" x2="451.6" y2="383"/>
<rect class="b" x="459.5" y="383" width="2.2" height="23.8"/>
<rect class="b" x="461.7" y="399.4" width="32.7" height="1.8"/>
<text class="tx" x="469.6" y="375.3" textLength="15.4" lengthAdjust="spacingAndGlyphs">Ванна</text>
<text class="nm" x="475.6" y="380.6" textLength="11.4" lengthAdjust="spacingAndGlyphs">4.81</text>
<line class="ul" x1="475.3" y1="381.7" x2="487.3" y2="381.7"/>
<rect class="fk" x="486.3" y="366.3" width="7.4" height="8.6"/>
<line class="l2" x1="491.92" y1="366" x2="491.92" y2="375.2"/>
<path d="M492.4 368.9v3.4l-2.4 -1.7z"/>
<rect class="fi" x="491" y="389" width="3.2" height="9.3"/>
<rect class="fi" x="480.6" y="389.5" width="10.4" height="8.3" rx="4.15"/>
<circle cx="483.6" cy="393.65" r="0.7"/>
<circle class="fi" cx="465.7" cy="404.4" r="3.3"/><path d="M463.5 403.5h4.4l-2.2 3z"/>
<text class="tx" x="468" y="410.7" textLength="23" lengthAdjust="spacingAndGlyphs">Санузел</text>
<text class="nm" x="473" y="417.7" textLength="11.4" lengthAdjust="spacingAndGlyphs">2.20</text>
<line class="ul" x1="472.7" y1="418.8" x2="484.7" y2="418.8"/>
<rect class="fi" x="489.4" y="410.6" width="5" height="7.2"/>
<line class="da" x1="495.6" y1="412" x2="495.6" y2="446"/>
<line class="dk" x1="452.4" y1="409" x2="460.4" y2="420.4"/>
<rect class="b" x="459.5" y="419.8" width="2.2" height="16.6"/>
<rect class="b" x="439" y="436" width="55.4" height="2.5"/>
<rect class="fk" x="472.8" y="423.1" width="16.4" height="12.8"/>
<path class="fk" d="M475 425.1L482.38 425.3L482.03 435.7L475.8 435.3Z"/>
<rect class="b" x="486.6" y="422.7" width="1.8" height="13.6"/>
<rect class="fk" x="474.7" y="439" width="9" height="10.3"/>
<line class="l2" x1="474.4" y1="441.53" x2="484" y2="441.53"/>
<path d="M477.5 440.88h3.4l-1.7 3.27z"/>
<text class="tx" x="418" y="408.7" textLength="30.4" lengthAdjust="spacingAndGlyphs">Прихожая</text>
<text class="tx" x="418" y="416.3" textLength="25" lengthAdjust="spacingAndGlyphs">коридор</text>
<text class="nm" x="416" y="427.3" textLength="15" lengthAdjust="spacingAndGlyphs">13.76</text>
<line class="ul" x1="415.7" y1="428.4" x2="431.3" y2="428.4"/>
<line class="dk" x1="401" y1="446.4" x2="415.4" y2="437.6"/>
<line class="dk" x1="423" y1="437.8" x2="437" y2="446.4"/>
<rect class="b" x="415.2" y="436.2" width="7.8" height="2"/>
<rect class="w" x="428" y="451.6" width="35.4" height="27.6"/>
<line class="l" x1="440.4" y1="451.6" x2="440.4" y2="479.2"/>
<line class="l" x1="440.4" y1="460.4" x2="463.4" y2="460.4"/>
<line class="l" x1="440.4" y1="469.6" x2="463.4" y2="469.6"/>
<text class="bx" x="444.5" y="458.5" textLength="15.9" lengthAdjust="spacingAndGlyphs">28,57</text>
<text class="bx" x="444.5" y="467.5" textLength="13.5" lengthAdjust="spacingAndGlyphs">66,07</text>
<text class="bx" x="444.5" y="476.9" textLength="13.5" lengthAdjust="spacingAndGlyphs">67,77</text>
<text class="kk" x="431.3" y="473" textLength="8.2" lengthAdjust="spacingAndGlyphs">2к</text>
<rect class="st" x="482.5" y="462.3" width="11" height="11"/>
<circle cx="485.45" cy="465.25" r="2.32"/><circle cx="485.45" cy="465.25" r="0.81" fill="#777"/>
<circle cx="490.44" cy="465.48" r="1.97"/><circle cx="490.44" cy="465.48" r="0.81" fill="#777"/>
<circle cx="485.68" cy="470.35" r="1.97"/><circle cx="485.68" cy="470.35" r="0.81" fill="#777"/>
<circle cx="490.2" cy="470.12" r="2.44"/><circle cx="490.2" cy="470.12" r="0.81" fill="#777"/>
<path d="M485.68 465.48L490.32 470.12" stroke="#000" stroke-width="1.6"/>
<text class="tx" x="467.4" y="494.3" textLength="16.2" lengthAdjust="spacingAndGlyphs">Кухня</text>
<text class="nm" x="472.9" y="508.2" textLength="14.9" lengthAdjust="spacingAndGlyphs">16.73</text>
<line class="ul" x1="472.6" y1="509.3" x2="488.1" y2="509.3"/>
<rect class="g" x="494.4" y="346.2" width="5.3" height="181"/>
<line class="l" x1="415.2" y1="526.2" x2="415.2" y2="558"/>
<line class="l" x1="419.7" y1="526.2" x2="419.7" y2="553.6"/>
<line class="l" x1="415.2" y1="558" x2="499.6" y2="558"/>
<line class="l" x1="419.7" y1="553.6" x2="494.6" y2="553.6"/>
<line class="l" x1="499.6" y1="527.2" x2="499.6" y2="558"/>
<line class="l" x1="494.6" y1="527.2" x2="494.6" y2="553.6"/>
<line class="l" x1="420.5" y1="550.3" x2="494.6" y2="526.6"/>
<line class="l" x1="420.5" y1="550.3" x2="494.6" y2="553.4"/>
<line class="lk" x1="412" y1="550.3" x2="420.5" y2="550.3"/>
<circle cx="412" cy="550.3" r="2.2"/><circle cx="420.5" cy="550.3" r="1.1"/>
<g transform="translate(434.5 540) rotate(-27)">
<text class="sl" x="0.5" y="-0.8" textLength="10.5" lengthAdjust="spacingAndGlyphs">i=0.02</text>
<path d="M0 0.7H10.5" stroke="#111" stroke-width="1.4" fill="none"/>
<path d="M-1 0.7l4 -1.8v3.6z"/>
</g>
<g transform="translate(478.5 544.5) rotate(0)">
<text class="sl" x="0.5" y="-0.8" textLength="10.5" lengthAdjust="spacingAndGlyphs">i=0.02</text>
<path d="M0 0.7H10.5" stroke="#111" stroke-width="1.4" fill="none"/>
<path d="M-1 0.7l4 -1.8v3.6z"/>
</g>
</g>
<g id="apt6">
<rect class="h" x="499.65" y="346.85" width="38.9" height="2.9"/>
<line class="da" x1="537.8" y1="350.2" x2="537.8" y2="372"/>
<rect class="b" x="499.7" y="371.6" width="39.7" height="1.5"/>
<text class="ts" x="501.6" y="362.9" textLength="16" lengthAdjust="spacingAndGlyphs">Гарде-</text>
<text class="ts" x="501.6" y="368.9" textLength="16.8" lengthAdjust="spacingAndGlyphs">робная</text>
<text class="nm" x="523.4" y="368.5" textLength="11.6" lengthAdjust="spacingAndGlyphs">2.39</text>
<line class="ul" x1="523.1" y1="369.6" x2="535.3" y2="369.6"/>
<rect class="fx" x="500.4" y="375" width="31.6" height="11.2"/>
<rect class="fi" x="501.9" y="376.5" width="28.6" height="8.2" rx="1.5"/>
<circle cx="504.4" cy="380.6" r="0.8"/>
<rect class="t" x="537" y="372.6" width="2.4" height="14.6"/>
<line class="dk" x1="538.4" y1="387.2" x2="546.8" y2="400"/>
<rect class="fk" x="500.5" y="388.8" width="7.2" height="8.3"/>
<line class="l2" x1="502.23" y1="388.5" x2="502.23" y2="397.4"/>
<path d="M501.76 391.25v3.4l2.34 -1.7z"/>
<rect class="fi" x="500.2" y="401.8" width="3.2" height="8.8"/>
<rect class="fi" x="503.4" y="402.3" width="9" height="7.8" rx="3.9"/>
<circle cx="509.4" cy="406.2" r="0.7"/>
<text class="tx" x="513.2" y="398.6" textLength="23.6" lengthAdjust="spacingAndGlyphs">Санузел</text>
<text class="nm" x="521.8" y="409.8" textLength="11.2" lengthAdjust="spacingAndGlyphs">4.24</text>
<line class="ul" x1="521.5" y1="410.9" x2="533.3" y2="410.9"/>
<rect class="b" x="537" y="400.6" width="2.4" height="25.4"/>
<rect class="fk" x="521" y="412.2" width="15.6" height="13"/>
<path class="fk" d="M523.2 414.2L530.11 414.4L529.78 425L524 424.6Z"/>
<rect class="b" x="534" y="411.8" width="1.8" height="13.8"/>
<rect class="b" x="499.7" y="425.5" width="45.3" height="2.2"/>
<line class="dk" x1="545" y1="427" x2="559" y2="418.2"/>
<rect class="fk" x="508.6" y="428.1" width="8.9" height="9.9"/>
<line class="l2" x1="508.3" y1="430.53" x2="517.8" y2="430.53"/>
<path d="M511.35 429.9h3.4l-1.7 3.15z"/>
<text class="tx" x="552" y="402.9" textLength="29.6" lengthAdjust="spacingAndGlyphs">Прихожая</text>
<text class="tx" x="552" y="410.3" textLength="25" lengthAdjust="spacingAndGlyphs">коридор</text>
<line class="dr" x1="541.9" y1="337.4" x2="557.4" y2="346.6"/>
<rect class="h" x="557.85" y="346.85" width="38.5" height="2.9"/>
<rect class="w" x="563" y="341.4" width="27" height="5"/>
<line class="l" x1="572" y1="341.4" x2="572" y2="346.4"/>
<line class="l" x1="580" y1="341.4" x2="580" y2="346.4"/>
<rect class="b" x="575" y="342.4" width="3.6" height="3.2"/>
<rect class="b" x="570.9" y="350.2" width="2.3" height="35"/>
<rect class="fi" x="573.4" y="350.4" width="18.9" height="5.2"/>
<rect class="b" x="579" y="351.4" width="8" height="3.2"/>
<rect class="fi" x="576.2" y="356" width="9.2" height="3"/>
<rect class="fi" x="576.7" y="359" width="8.2" height="12" rx="4.1"/>
<circle cx="580.8" cy="368" r="0.7"/>
<text class="tx" x="573.4" y="376.9" textLength="17.2" lengthAdjust="spacingAndGlyphs">Санузел</text>
<text class="nm" x="582.6" y="383.4" textLength="7.6" lengthAdjust="spacingAndGlyphs">1.15</text>
<line class="ul" x1="582.3" y1="384.5" x2="590.5" y2="384.5"/>
<rect class="b" x="588.4" y="372.5" width="3.6" height="11.5"/>
<line class="dr" x1="572.6" y1="391" x2="588.6" y2="383.2"/>
<rect class="b" x="561" y="425.4" width="10.6" height="2.3"/>
<rect class="g" x="566.2" y="427.6" width="2.6" height="63.4"/>
<line class="dk" x1="571.6" y1="427" x2="585.4" y2="435"/>
<text class="nm" x="589.2" y="421.8" textLength="13.8" lengthAdjust="spacingAndGlyphs">11.47</text>
<line class="ul" x1="588.9" y1="422.9" x2="603.3" y2="422.9"/>
<rect class="w" x="526.6" y="446.2" width="35.4" height="28.2"/>
<line class="l" x1="540.2" y1="446.2" x2="540.2" y2="474.4"/>
<line class="l" x1="540.2" y1="455.6" x2="562" y2="455.6"/>
<line class="l" x1="540.2" y1="465" x2="562" y2="465"/>
<text class="bx" x="544.3" y="453.4" textLength="15.9" lengthAdjust="spacingAndGlyphs">26,03</text>
<text class="bx" x="544.3" y="462.8" textLength="13.5" lengthAdjust="spacingAndGlyphs">62,82</text>
<text class="bx" x="544.3" y="472.2" textLength="13.5" lengthAdjust="spacingAndGlyphs">64,99</text>
<text class="kk" x="529.9" y="467.9" textLength="8.2" lengthAdjust="spacingAndGlyphs">2к</text>
<rect class="st" x="500.3" y="462.3" width="11.4" height="11"/>
<circle cx="503.36" cy="465.25" r="2.4"/><circle cx="503.36" cy="465.25" r="0.84" fill="#777"/>
<circle cx="508.52" cy="465.48" r="2.04"/><circle cx="508.52" cy="465.48" r="0.84" fill="#777"/>
<circle cx="503.6" cy="470.35" r="2.04"/><circle cx="503.6" cy="470.35" r="0.84" fill="#777"/>
<circle cx="508.28" cy="470.12" r="2.52"/><circle cx="508.28" cy="470.12" r="0.84" fill="#777"/>
<path d="M503.6 465.48L508.4 470.12" stroke="#000" stroke-width="1.6"/>
<text class="tx" x="542.2" y="496.1" textLength="15.8" lengthAdjust="spacingAndGlyphs">Кухня</text>
<text class="nm" x="544.4" y="508.4" textLength="15.2" lengthAdjust="spacingAndGlyphs">17.23</text>
<line class="ul" x1="544.1" y1="509.5" x2="559.9" y2="509.5"/>
<rect class="h" x="566.45" y="491.45" width="4.1" height="27.5"/>
<line class="l" x1="499.7" y1="514.6" x2="566" y2="514.6"/>
<line class="l" x1="499.7" y1="519" x2="566" y2="519"/>
<line class="l2" x1="499.7" y1="521" x2="566" y2="521"/>
<line class="l" x1="515" y1="514.6" x2="515" y2="523"/>
<line class="l" x1="551" y1="514.6" x2="551" y2="523"/>
<rect class="b" x="499.7" y="519" width="8.9" height="2.5"/>
<rect class="b" x="551" y="519" width="23.4" height="2.5"/>
<rect class="d" x="499.7" y="521.5" width="8.9" height="1.9"/>
<rect class="d" x="551" y="521.5" width="24.7" height="1.9"/>
<line class="l" x1="499.7" y1="523.9" x2="576" y2="523.9"/>
<line class="l" x1="576" y1="495.6" x2="576" y2="523.6"/>
<rect class="b" x="571" y="495.4" width="2.8" height="25.8"/>
<rect class="g" x="587" y="425.4" width="51" height="2.3"/>
<rect class="g" x="634.6" y="425.4" width="3" height="42.2"/>
<rect class="fi" x="621.4" y="422.4" width="2.4" height="3"/>
<line class="dk" x1="622.2" y1="405.4" x2="631.8" y2="420.4"/>
<rect class="fi" x="621" y="402.4" width="2.3" height="3.2"/>
<text class="tx" x="596" y="464.1" textLength="19" lengthAdjust="spacingAndGlyphs">Жилая</text>
<text class="tx" x="596" y="471.8" textLength="26.6" lengthAdjust="spacingAndGlyphs">комната</text>
<text class="nm" x="613.4" y="484" textLength="14.4" lengthAdjust="spacingAndGlyphs">12.48</text>
<line class="ul" x1="613.1" y1="485.1" x2="628.1" y2="485.1"/>
<rect class="h" x="635.85" y="468.05" width="4.1" height="26.9"/>
<line class="l" x1="571" y1="491" x2="635.4" y2="491"/>
<line class="l" x1="571" y1="494.8" x2="635.4" y2="494.8"/>
<line class="l" x1="587" y1="491" x2="587" y2="497.6"/>
<line class="l" x1="622" y1="491" x2="622" y2="497.6"/>
<rect class="b" x="571" y="495.2" width="11" height="2.5"/>
<rect class="b" x="626.6" y="495.2" width="16.8" height="2.5"/>
<line class="l" x1="571" y1="499.6" x2="645" y2="499.6"/>
<rect class="b" x="640.4" y="472" width="3" height="26"/>
<line class="l" x1="645" y1="476" x2="645" y2="500.4"/>
<text class="tx" x="659" y="435.8" textLength="19.6" lengthAdjust="spacingAndGlyphs">Жилая</text>
<text class="tx" x="659" y="443.1" textLength="27.8" lengthAdjust="spacingAndGlyphs">комната</text>
<text class="nm" x="682.6" y="460.4" textLength="14.6" lengthAdjust="spacingAndGlyphs">13.55</text>
<line class="ul" x1="682.3" y1="461.5" x2="697.5" y2="461.5"/>
<rect class="w" x="703.8" y="402.5" width="3.8" height="42.1"/>
<line class="l" x1="705.6" y1="402.5" x2="705.6" y2="444.6"/>
<rect class="h" x="704.65" y="445.05" width="3.3" height="26.6"/>
<line class="l" x1="713.4" y1="340" x2="713.4" y2="500.4"/>
<line class="l" x1="712.2" y1="476" x2="712.2" y2="500.4"/>
<rect class="dv" x="711.4" y="402" width="1.8" height="74"/>
<rect class="w" x="639.8" y="467.4" width="10.8" height="4.6"/>
<rect class="b" x="640.8" y="472" width="11.6" height="2.6"/>
<rect class="d" x="643.4" y="474.6" width="9" height="1.7"/>
<line class="dk" x1="651.7" y1="473" x2="662.8" y2="466.2"/>
<rect class="w" x="681.2" y="467.4" width="23.4" height="4.6"/>
<rect class="b" x="666.2" y="472" width="46.8" height="2.6"/>
<rect class="d" x="666.2" y="474.6" width="46.8" height="1.7"/>
<rect class="b" x="643.4" y="498.3" width="70.4" height="2.2"/>
<text class="tx" x="659" y="494.6" textLength="22.4" lengthAdjust="spacingAndGlyphs">Лоджия</text>
<text class="nm" x="686.8" y="494" textLength="11.6" lengthAdjust="spacingAndGlyphs">4.33</text>
<line class="ul" x1="686.5" y1="495.1" x2="698.7" y2="495.1"/>
</g>
</g>
</svg>
</body></html>
